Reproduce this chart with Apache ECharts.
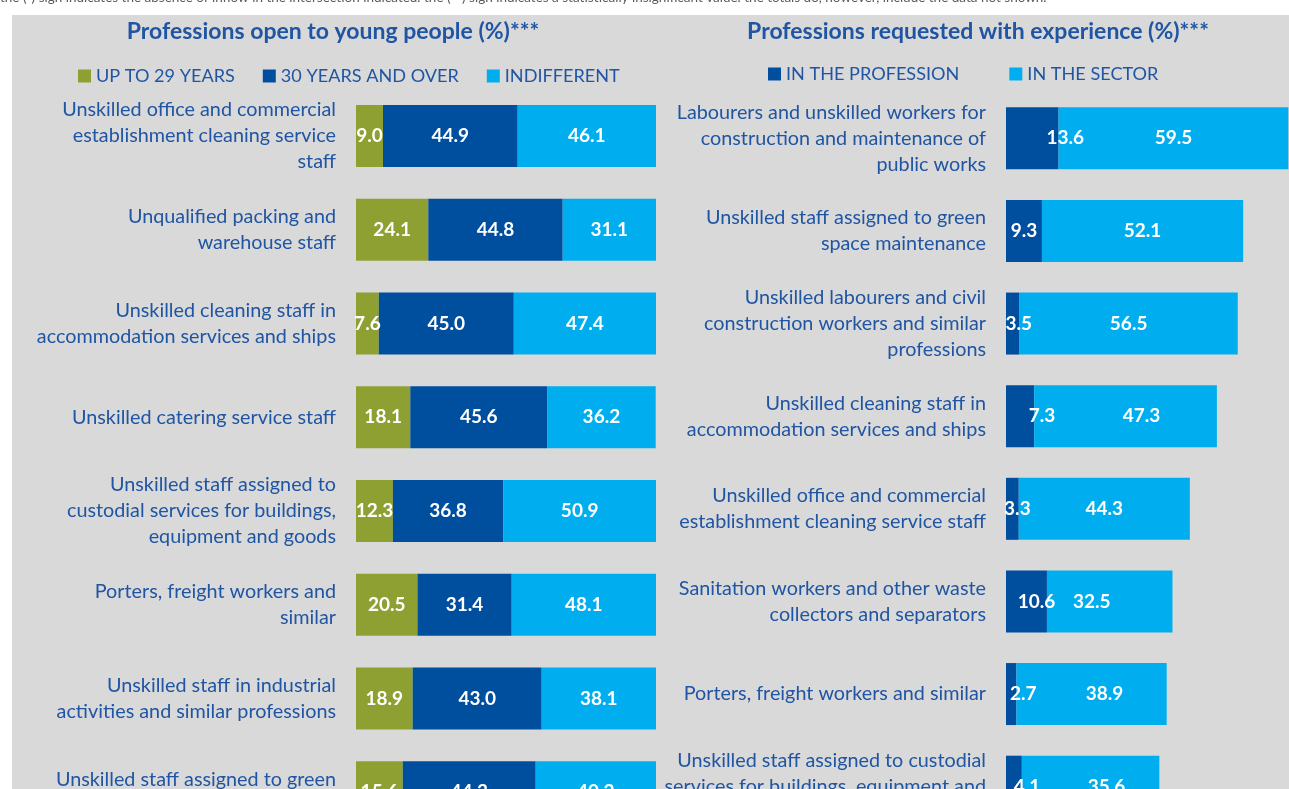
<!DOCTYPE html>
<html>
<head>
<meta charset="utf-8">
<script src="https://cdn.jsdelivr.net/npm/echarts@6/dist/echarts.min.js"></script>
<style>
html,body{margin:0;padding:0;background:#ffffff;overflow:hidden;width:1289px;height:789px;}
#c{width:1400px;height:900px;}
</style>
</head>
<body>
<div id="c"></div>
<script>
// ---- data ----
const leftCategories = [
  "Unskilled office and commercial\nestablishment cleaning service\nstaff",
  "Unqualified packing and\nwarehouse staff",
  "Unskilled cleaning staff in\naccommodation services and ships",
  "Unskilled catering service staff",
  "Unskilled staff assigned to\ncustodial services for buildings,\nequipment and goods",
  "Porters, freight workers and\nsimilar",
  "Unskilled staff in industrial\nactivities and similar professions",
  "Unskilled staff assigned to green\nspace maintenance"
];
const upTo29 = [9.0, 24.1, 7.6, 18.1, 12.3, 20.5, 18.9, 15.6];
const over30 = [44.9, 44.8, 45.0, 45.6, 36.8, 31.4, 43.0, 44.3];
const indifferent = [46.1, 31.1, 47.4, 36.2, 50.9, 48.1, 38.1, 40.2];

const rightCategories = [
  "Labourers and unskilled workers for\nconstruction and maintenance of\npublic works",
  "Unskilled staff assigned to green\nspace maintenance",
  "Unskilled labourers and civil\nconstruction workers and similar\nprofessions",
  "Unskilled cleaning staff in\naccommodation services and ships",
  "Unskilled office and commercial\nestablishment cleaning service staff",
  "Sanitation workers and other waste\ncollectors and separators",
  "Porters, freight workers and similar",
  "Unskilled staff assigned to custodial\nservices for buildings, equipment and\ngoods"
];
const inProfession = [13.6, 9.3, 3.5, 7.3, 3.3, 10.6, 2.7, 4.1];
const inSector = [59.5, 52.1, 56.5, 47.3, 44.3, 32.5, 38.9, 35.6];

const leftTitle = "Professions open to young people (%)***";
const rightTitle = "Professions requested with experience (%)***";
const note = "the (-) sign indicates the absence of inflow in the intersection indicated. the (**) sign indicates a statistically insignificant value. the totals do, however, include the data not shown.";

// ---- styles ----
const FONT = "Lato";
const TXT = "#1f55a3";
const C_GREEN = "#8fa033";
const C_DARK = "#004f9f";
const C_LIGHT = "#00aeef";
// horizontal nudges of value labels (as placed in the original chart)
const profLabelNudge = [33, 0, 6, 22, 5, 10, 12, 13];
const sectorLabelNudge = [0, 0, 0, 16, 0, -18, 13, 16];

const chart = echarts.init(document.getElementById('c'));

function lbl() {
  return {
    show: true, position: 'inside', color: '#ffffff', fontFamily: FONT,
    fontWeight: 'bold', fontSize: 19,
    formatter: p => p.value.toFixed(1)
  };
}
function barSeries(name, data, stack, color, idx, nudges) {
  const d = nudges
    ? data.map((v, i) => ({ value: v, label: { offset: [nudges[i], 0] } }))
    : data;
  return {
    name, type: 'bar', stack, data: d, xAxisIndex: idx, yAxisIndex: idx,
    barWidth: 62, itemStyle: { color }, label: lbl(), animation: false
  };
}

const option = {
  animation: false,
  backgroundColor: '#ffffff',
  graphic: [
    { type: 'rect', z: -10, shape: { x: 12, y: 15, width: 1400, height: 900 }, style: { fill: '#d9d9d9' } },
    { type: 'text', left: 0, top: -9, style: { text: note, fill: '#595959', font: '13.5px ' + FONT } },
    { type: 'text', x: 333, y: 32, style: { text: leftTitle, fill: TXT, font: 'bold 23px ' + FONT, align: 'center', verticalAlign: 'middle' } },
    { type: 'text', x: 978, y: 32, style: { text: rightTitle, fill: TXT, font: 'bold 23px ' + FONT, align: 'center', verticalAlign: 'middle' } }
  ],
  legend: [
    {
      data: ['UP TO 29 YEARS', '30 YEARS AND OVER', 'INDIFFERENT'],
      left: 78, top: 67, padding: 0, icon: 'rect', itemWidth: 13, itemHeight: 13, itemGap: 28,
      textStyle: { color: TXT, fontFamily: FONT, fontSize: 18.1 }
    },
    {
      data: ['IN THE PROFESSION', 'IN THE SECTOR'],
      left: 768, top: 65, padding: 0, icon: 'rect', itemWidth: 13, itemHeight: 13, itemGap: 50,
      textStyle: { color: TXT, fontFamily: FONT, fontSize: 18.1 }
    }
  ],
  grid: [
    { left: 356, top: 89, width: 300, height: 750 },
    { left: 1006, top: 92, width: 309, height: 741 }
  ],
  xAxis: [
    { gridIndex: 0, type: 'value', min: 0, max: 100, show: false },
    { gridIndex: 1, type: 'value', min: 0, max: 80, show: false }
  ],
  yAxis: [
    {
      gridIndex: 0, type: 'category', data: leftCategories, inverse: true,
      axisLine: { show: false }, axisTick: { show: false }, splitLine: { show: false },
      axisLabel: { color: TXT, fontFamily: FONT, fontSize: 19.8, lineHeight: 26, margin: 20, align: 'right' }
    },
    {
      gridIndex: 1, type: 'category', data: rightCategories, inverse: true,
      axisLine: { show: false }, axisTick: { show: false }, splitLine: { show: false },
      axisLabel: { color: TXT, fontFamily: FONT, fontSize: 19.8, lineHeight: 26, margin: 20, align: 'right' }
    }
  ],
  series: [
    barSeries('UP TO 29 YEARS', upTo29, 'L', C_GREEN, 0),
    barSeries('30 YEARS AND OVER', over30, 'L', C_DARK, 0),
    barSeries('INDIFFERENT', indifferent, 'L', C_LIGHT, 0),
    barSeries('IN THE PROFESSION', inProfession, 'R', C_DARK, 1, profLabelNudge),
    barSeries('IN THE SECTOR', inSector, 'R', C_LIGHT, 1, sectorLabelNudge)
  ]
};
chart.setOption(option);
</script>
</body>
</html>
